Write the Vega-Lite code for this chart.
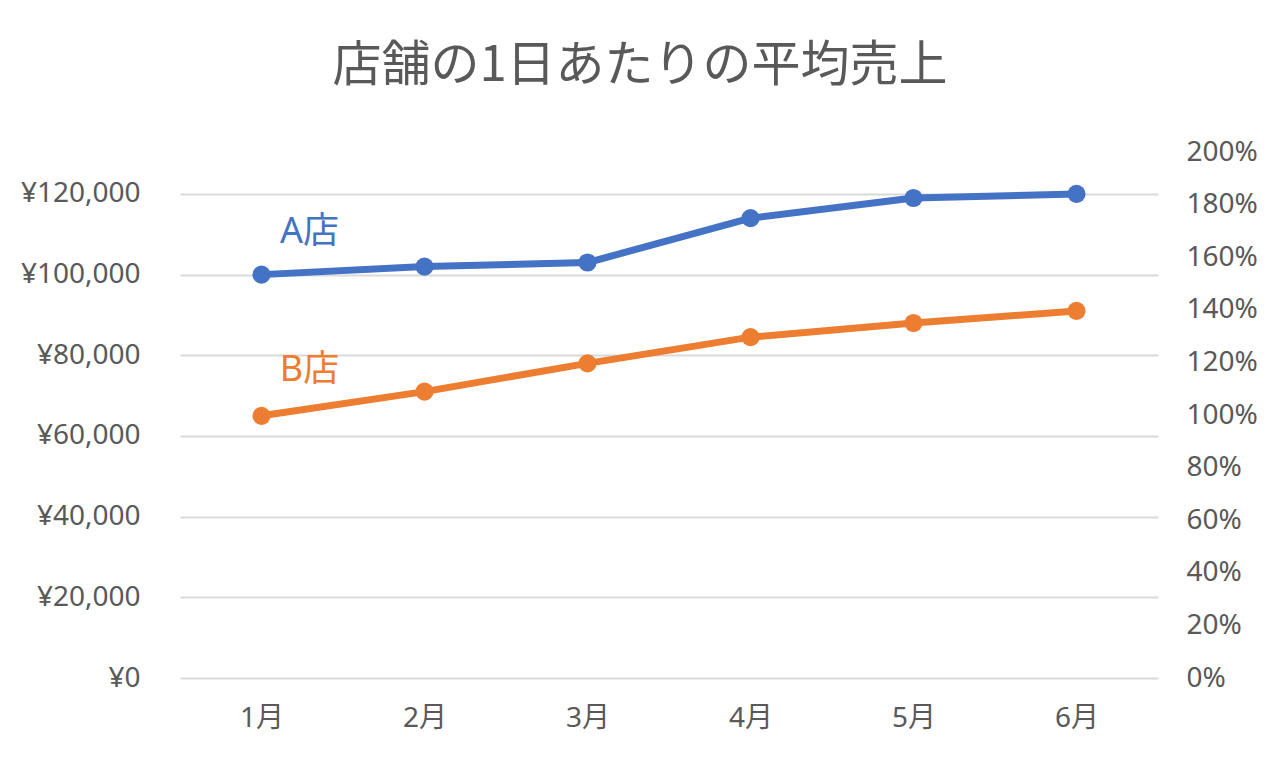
{
  "$schema": "https://vega.github.io/schema/vega-lite/v6.json",
  "width": 978,
  "height": 526,
  "autosize": {"type": "none"},
  "padding": {"left": 180, "top": 152, "right": 122, "bottom": 91},
  "background": "white",
  "title": {
    "text": "店舗の1日あたりの平均売上",
    "font": "Noto Sans CJK JP",
    "fontSize": 49,
    "fontWeight": "normal",
    "color": "#595959",
    "anchor": "middle",
    "frame": "group",
    "baseline": "alphabetic",
    "offset": 8,
    "dx": -29
  },
  "config": {
    "view": {"stroke": null},
    "axis": {
      "labelFont": "Noto Sans, Noto Sans CJK JP",
      "labelFontSize": 28,
      "labelColor": "#595959",
      "titleColor": "#595959"
    }
  },
  "datasets": {
    "sales": [
      {"month": "1月", "store": "A店", "value": 100000},
      {"month": "2月", "store": "A店", "value": 102000},
      {"month": "3月", "store": "A店", "value": 103000},
      {"month": "4月", "store": "A店", "value": 114000},
      {"month": "5月", "store": "A店", "value": 119000},
      {"month": "6月", "store": "A店", "value": 120000},
      {"month": "1月", "store": "B店", "value": 65000},
      {"month": "2月", "store": "B店", "value": 71000},
      {"month": "3月", "store": "B店", "value": 78000},
      {"month": "4月", "store": "B店", "value": 84500},
      {"month": "5月", "store": "B店", "value": 88000},
      {"month": "6月", "store": "B店", "value": 91000}
    ],
    "labels": [
      {"month": "1月", "store": "A店", "value": 110500},
      {"month": "1月", "store": "B店", "value": 76300}
    ]
  },
  "layer": [
    {
      "encoding": {
        "x": {
          "field": "month",
          "type": "ordinal",
          "sort": ["1月", "2月", "3月", "4月", "5月", "6月"],
          "scale": {"type": "point", "padding": 0.5},
          "axis": {"title": null, "labelAngle": 0, "domain": false, "ticks": false, "labelPadding": 26, "grid": false}
        },
        "y": {
          "field": "value",
          "type": "quantitative",
          "scale": {"domain": [0, 130400], "nice": false},
          "axis": {
            "title": null,
            "values": [0, 20000, 40000, 60000, 80000, 100000, 120000],
            "labelExpr": "'¥' + format(datum.value, ',')",
            "domain": false,
            "ticks": false,
            "labelPadding": 40,
            "gridColor": "#d9d9d9",
            "gridWidth": 2
          }
        },
        "color": {
          "field": "store",
          "type": "nominal",
          "scale": {"domain": ["A店", "B店"], "range": ["#4472C4", "#ED7D31"]},
          "legend": null
        }
      },
      "layer": [
        {
          "data": {"name": "sales"},
          "mark": {"type": "line", "strokeWidth": 7, "strokeJoin": "round", "strokeCap": "round"}
        },
        {
          "data": {"name": "sales"},
          "mark": {"type": "point", "filled": true, "opacity": 1, "size": 330}
        },
        {
          "data": {"name": "labels"},
          "mark": {"type": "text", "font": "Noto Sans, Noto Sans CJK JP", "fontSize": 36, "dx": 48, "baseline": "middle", "align": "center"},
          "encoding": {"text": {"field": "store"}}
        }
      ]
    },
    {
      "data": {"name": "sales"},
      "mark": {"type": "tick", "opacity": 0},
      "encoding": {
        "x": {"field": "month", "type": "ordinal", "sort": ["1月", "2月", "3月", "4月", "5月", "6月"], "scale": {"type": "point", "padding": 0.5}},
        "y": {
          "datum": 0,
          "type": "quantitative",
          "scale": {"domain": [0, 2], "nice": false},
          "axis": {
            "orient": "right",
            "title": null,
            "values": [0, 0.2, 0.4, 0.6, 0.8, 1, 1.2, 1.4, 1.6, 1.8, 2],
            "format": ".0%",
            "grid": false,
            "domain": false,
            "ticks": false,
            "labelPadding": 28
          }
        }
      }
    }
  ],
  "resolve": {"scale": {"y": "independent"}}
}
